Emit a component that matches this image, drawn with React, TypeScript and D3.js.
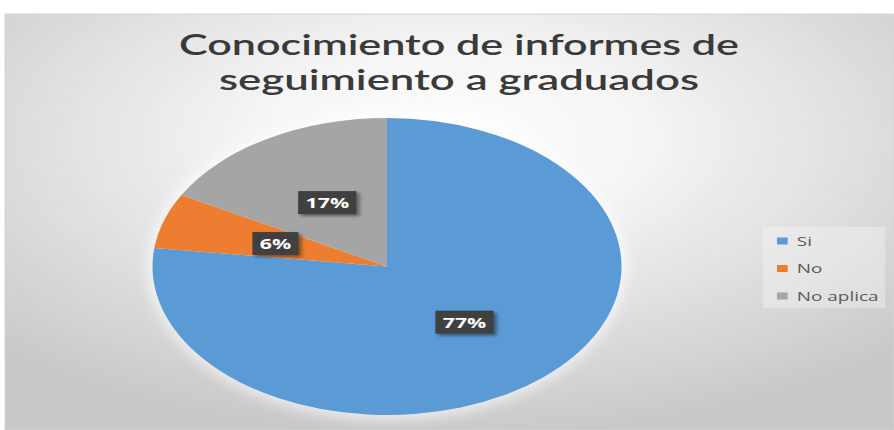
import { useEffect, useRef } from 'react';
import * as d3 from 'd3';

const titleLines = ['Conocimiento de informes de', 'seguimiento a graduados'];
const categories = ['Si', 'No', 'No aplica'];
const values = [77, 6, 17];
const colors = ['#5B9BD5', '#ED7D31', '#A5A5A5'];

const W = 894;
const H = 430;
const STRETCH = 1.42; // the source picture is squashed wide, text included
const titleWidths = [560, 480];

const App = () => {
  const svgRef = useRef<SVGSVGElement>(null);

  useEffect(() => {
    const svg = d3.select(svgRef.current);
    svg.selectAll('*').remove();

    const defs = svg.append('defs');
    const bg = defs.append('radialGradient')
      .attr('id', 'bg')
      .attr('cx', 0.5).attr('cy', 0.3).attr('r', 0.72);
    bg.append('stop').attr('offset', '0%').attr('stop-color', '#ffffff');
    bg.append('stop').attr('offset', '30%').attr('stop-color', '#f5f5f5');
    bg.append('stop').attr('offset', '100%').attr('stop-color', '#c8c8c8');

    const glow = defs.append('filter').attr('id', 'glow')
      .attr('x', '-20%').attr('y', '-20%').attr('width', '140%').attr('height', '140%');
    glow.append('feGaussianBlur').attr('stdDeviation', 6);

    const shadow = defs.append('filter').attr('id', 'shadow')
      .attr('x', '-30%').attr('y', '-40%').attr('width', '160%').attr('height', '180%');
    shadow.append('feDropShadow')
      .attr('dx', 2).attr('dy', 2).attr('stdDeviation', 1.5)
      .attr('flood-color', '#000').attr('flood-opacity', 0.45);

    // page + chart area
    svg.append('rect').attr('width', W).attr('height', H).attr('fill', '#ffffff');
    svg.append('rect')
      .attr('x', 5).attr('y', 14)
      .attr('width', W - 5).attr('height', H - 14)
      .attr('fill', 'url(#bg)')
      .attr('stroke', '#d4d4d4').attr('stroke-width', 1);

    // title
    svg.append('g').selectAll('text')
      .data(titleLines)
      .enter()
      .append('text')
      .attr('x', 459)
      .attr('y', (_, i) => 55 + i * 35)
      .attr('text-anchor', 'middle')
      .attr('textLength', (_, i) => titleWidths[i])
      .attr('lengthAdjust', 'spacingAndGlyphs')
      .style('font-family', 'Lato, "Open Sans", sans-serif')
      .style('font-weight', 600)
      .style('font-size', '29px')
      .style('fill', '#3a3a3a')
      .text(d => d);

    // pie (ellipse: drawn on ry, stretched along x)
    const cx = 387, cy = 266.5, rx = 234.5, ry = 148.5;
    const sx = rx / ry;

    svg.append('ellipse')
      .attr('cx', cx).attr('cy', cy)
      .attr('rx', rx + 6).attr('ry', ry + 6)
      .attr('fill', '#ffffff').attr('opacity', 0.55)
      .attr('filter', 'url(#glow)');

    const pie = d3.pie<number>().sort(null).value(d => d);
    const arcs = pie(values);
    const arc = d3.arc<d3.PieArcDatum<number>>().innerRadius(0).outerRadius(ry);

    svg.append('g')
      .attr('transform', `translate(${cx},${cy}) scale(${sx},1)`)
      .selectAll('path')
      .data(arcs)
      .enter()
      .append('path')
      .attr('d', arc)
      .attr('fill', (_, i) => colors[i]);

    // data labels
    arcs.forEach(a => {
      const [px, py] = arc.centroid(a);
      const g = svg.append('g')
        .attr('transform', `translate(${cx + px * sx},${cy + py}) scale(${STRETCH},1)`);
      const rect = g.append('rect');
      const t = g.append('text')
        .attr('x', 0).attr('y', 5.5)
        .attr('text-anchor', 'middle')
        .style('font-family', '"Open Sans", sans-serif')
        .style('font-weight', 700)
        .style('font-size', '15px')
        .style('fill', '#ffffff')
        .text(`${a.data}%`);
      const w = (t.node() as SVGTextElement).getComputedTextLength();
      rect.attr('x', -w / 2 - 5.2).attr('y', -11.5)
        .attr('width', w + 10.4).attr('height', 23)
        .attr('fill', '#404040')
        .attr('filter', 'url(#shadow)');
    });

    // legend
    svg.append('rect')
      .attr('x', 763).attr('y', 227)
      .attr('width', 122).attr('height', 81)
      .attr('fill', '#ffffff').attr('opacity', 0.3);

    const legend = svg.append('g').selectAll('g')
      .data(categories)
      .enter()
      .append('g')
      .attr('transform', (_, i) => `translate(777,${241 + i * 27.5}) scale(${STRETCH},1)`);
    legend.append('rect')
      .attr('x', 0).attr('y', -3.5)
      .attr('width', 7.5).attr('height', 7)
      .attr('fill', (_, i) => colors[i]);
    legend.append('text')
      .attr('x', 14).attr('y', 4.8)
      .style('font-family', '"Open Sans", sans-serif')
      .style('font-size', '13.3px')
      .style('fill', '#595959')
      .text(d => d);
  }, []);

  return (
    <svg
      ref={svgRef}
      width={W}
      height={H}
      style={{ position: 'absolute', left: 0, top: 0 }}
    />
  );
};

export default App;
